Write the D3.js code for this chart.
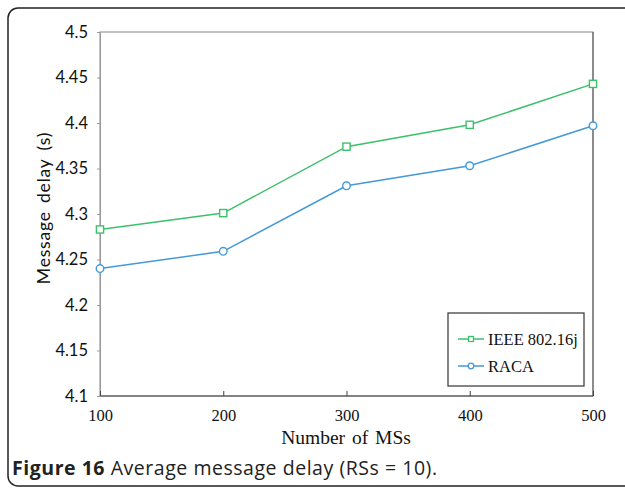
<!DOCTYPE html>
<html><head><meta charset="utf-8">
<script src="https://cdn.jsdelivr.net/npm/d3@7"></script>
<style>body{margin:0;background:#fff}svg{display:block}</style>
</head><body>
<svg id="c" width="625" height="489"></svg>
<script>
const categories = [100, 200, 300, 400, 500];
const ieee = [4.283, 4.301, 4.374, 4.398, 4.443];
const raca = [4.240, 4.259, 4.331, 4.353, 4.397];
const yTicks = [4.1, 4.15, 4.2, 4.25, 4.3, 4.35, 4.4, 4.45, 4.5];
const seriesNames = ["IEEE 802.16j", "RACA"];

const svg = d3.select("#c");
// outer rounded frame
svg.append("rect").attr("x", 8).attr("y", 8).attr("width", 640).attr("height", 478)
  .attr("rx", 10).attr("fill", "none").attr("stroke", "#222").attr("stroke-width", 1.5);

const L = 100, R = 593, T = 32, B = 396;
const x = d3.scaleLinear().domain([100, 500]).range([L, R]);
const y = d3.scaleLinear().domain([4.1, 4.5]).range([B, T]);

// plot box
svg.append("rect").attr("x", L).attr("y", T).attr("width", R - L).attr("height", B - T)
  .attr("fill", "none").attr("stroke", "#888").attr("stroke-width", 1);
svg.append("line").attr("x1", L).attr("x2", R).attr("y1", B).attr("y2", B).attr("stroke", "#444");
svg.append("line").attr("x1", R).attr("x2", R).attr("y1", T).attr("y2", B).attr("stroke", "#555");

// y axis
const ya = svg.append("g").attr("transform", `translate(${L},0)`)
  .call(d3.axisLeft(y).tickValues(yTicks).tickSize(3).tickFormat(d => String(+d.toFixed(2))));
ya.select(".domain").attr("stroke", "#999");
ya.selectAll(".tick line").attr("stroke", "#999");
ya.selectAll("text").attr("font-family", "Lato, sans-serif").attr("font-size", 16.5)
  .attr("fill", "#111").attr("x", -12);

// x axis
const xa = svg.append("g").attr("transform", `translate(0,${B})`)
  .call(d3.axisBottom(x).tickValues(categories).tickSize(-5).tickFormat(d3.format("d")));
xa.select(".domain").remove();
xa.selectAll(".tick line").attr("stroke", "#444");
xa.selectAll("text").attr("font-family", "'Liberation Serif', serif").attr("font-size", 16.5)
  .attr("fill", "#111").attr("y", 13);

// titles
svg.append("text").attr("x", 346).attr("y", 444).attr("text-anchor", "middle")
  .attr("font-family", "'Liberation Serif', serif").attr("font-size", 19.5).attr("fill", "#111")
  .attr("word-spacing", 2).text("Number of MSs");
svg.append("text").attr("transform", "translate(50,208) rotate(-90)").attr("text-anchor", "middle")
  .attr("font-family", "Lato, sans-serif").attr("font-size", 17.5).attr("fill", "#111")
  .attr("letter-spacing", 0.8).attr("word-spacing", 3).text("Message delay (s)");

// series
const colors = ["#3cc16b", "#4499d9"];
const data = [ieee, raca];
const line = d3.line().x((d, i) => x(categories[i])).y(d => y(d));
data.forEach((vals, k) => {
  svg.append("path").datum(vals).attr("d", line).attr("fill", "none")
    .attr("stroke", colors[k]).attr("stroke-width", 1.5);
  vals.forEach((v, i) => {
    if (k === 0) {
      svg.append("rect").attr("x", x(categories[i]) - 3.6).attr("y", y(v) - 3.6)
        .attr("width", 7.2).attr("height", 7.2).attr("fill", "#fff")
        .attr("stroke", colors[k]).attr("stroke-width", 1.4);
    } else {
      svg.append("circle").attr("cx", x(categories[i])).attr("cy", y(v)).attr("r", 3.8)
        .attr("fill", "#fff").attr("stroke", colors[k]).attr("stroke-width", 1.4);
    }
  });
});

// legend
svg.append("rect").attr("x", 448).attr("y", 313).attr("width", 136).attr("height", 73)
  .attr("fill", "#fff").attr("stroke", "#333").attr("stroke-width", 1.2);
seriesNames.forEach((n, k) => {
  const ly = 339 + k * 27;
  svg.append("line").attr("x1", 458).attr("x2", 484).attr("y1", ly).attr("y2", ly)
    .attr("stroke", colors[k]).attr("stroke-width", 1.5);
  if (k === 0) svg.append("rect").attr("x", 468.5).attr("y", ly - 2.5).attr("width", 5).attr("height", 5)
    .attr("fill", "#fff").attr("stroke", colors[k]).attr("stroke-width", 1.3);
  else svg.append("circle").attr("cx", 471).attr("cy", ly).attr("r", 2.8)
    .attr("fill", "#fff").attr("stroke", colors[k]).attr("stroke-width", 1.3);
  svg.append("text").attr("x", 488).attr("y", ly + 5.5).attr("font-family", "'Liberation Serif', serif")
    .attr("font-size", 16.5).attr("fill", "#111").text(n);
});

// caption
const cap = svg.append("text").attr("x", 12).attr("y", 475)
  .attr("font-family", "'Open Sans', sans-serif").attr("font-size", 19.5).attr("fill", "#222")
  .attr("textLength", 425).attr("lengthAdjust", "spacing");
cap.append("tspan").attr("font-weight", "bold").text("Figure 16");
cap.append("tspan").text(" Average message delay (RSs = 10).");
</script>
</body></html>
